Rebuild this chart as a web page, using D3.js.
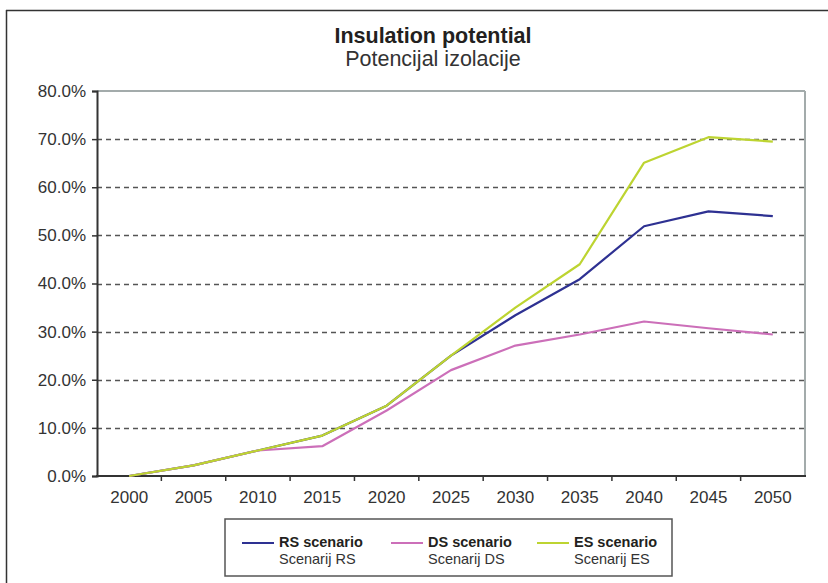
<!DOCTYPE html>
<html>
<head>
<meta charset="utf-8">
<script src="https://cdn.jsdelivr.net/npm/d3@7"></script>
<style>
  html, body { margin: 0; padding: 0; background: #fff; }
  svg { display: block; font-family: "Liberation Sans", Arial, sans-serif; }
</style>
</head>
<body>
<svg id="chart" width="828" height="583"></svg>
<script>
// Years on the category axis
const years = ["2000","2005","2010","2015","2020","2025","2030","2035","2040","2045","2050"];
// Share of insulation potential (percent) per scenario
const rsValues = [0, 2.2, 5.3, 8.4, 14.6, 25.0, 33.4, 40.9, 51.9, 55.0, 54.0];
const dsValues = [0, 2.2, 5.3, 6.2, 13.6, 22.0, 27.1, 29.4, 32.1, 30.7, 29.4];
const esValues = [0, 2.2, 5.3, 8.4, 14.6, 25.0, 35.0, 44.0, 65.1, 70.4, 69.5];
const yTicks = [0, 10, 20, 30, 40, 50, 60, 70, 80];
const seriesNames = ["RS scenario", "DS scenario", "ES scenario"];
const seriesSubNames = ["Scenarij RS", "Scenarij DS", "Scenarij ES"];
const seriesColors = ["#2e3192", "#cc6fb9", "#bdd431"];

const series = [rsValues, dsValues, esValues].map((values, i) => ({
  name: seriesNames[i], sub: seriesSubNames[i], color: seriesColors[i], values
}));

const svg = d3.select("#chart");
const plotLeft = 97, plotRight = 805, plotTop = 91, plotBottom = 476;

// outer frame: top and left edges only
svg.append("line").attr("x1", 6).attr("x2", 828).attr("y1", 10.5).attr("y2", 10.5)
  .attr("stroke", "#333").attr("stroke-width", 1.5);
svg.append("line").attr("x1", 6.5).attr("x2", 6.5).attr("y1", 10).attr("y2", 583)
  .attr("stroke", "#333").attr("stroke-width", 1.5);

// titles
svg.append("text").attr("x", 433).attr("y", 43).attr("text-anchor", "middle")
  .attr("font-size", 21.5).attr("font-weight", "bold").attr("fill", "#231f20")
  .text("Insulation potential");
svg.append("text").attr("x", 433).attr("y", 66).attr("text-anchor", "middle")
  .attr("font-size", 21.5).attr("fill", "#333")
  .text("Potencijal izolacije");

const x = d3.scaleBand().domain(years).range([plotLeft, plotRight]);
const y = d3.scaleLinear().domain([0, 80]).range([plotBottom, plotTop]);

// dashed gridlines
svg.append("g").selectAll("line").data(yTicks.filter(t => t > 0 && t < 80)).join("line")
  .attr("x1", plotLeft).attr("x2", plotRight)
  .attr("y1", d => Math.round(y(d)) + 0.5).attr("y2", d => Math.round(y(d)) + 0.5)
  .attr("stroke", "#555").attr("stroke-width", 1.3).attr("stroke-dasharray", "5,4");

// plot frame: top and right in grey
svg.append("line").attr("x1", plotLeft).attr("x2", plotRight).attr("y1", plotTop).attr("y2", plotTop)
  .attr("stroke", "#a3abab").attr("stroke-width", 2);
svg.append("line").attr("x1", plotRight).attr("x2", plotRight).attr("y1", plotTop).attr("y2", plotBottom)
  .attr("stroke", "#a3abab").attr("stroke-width", 2);

// y axis
const yAxis = svg.append("g").attr("transform", `translate(${plotLeft},0)`)
  .call(d3.axisLeft(y).tickValues(yTicks).tickFormat(d => d.toFixed(1) + "%").tickSize(5).tickPadding(6));
yAxis.select(".domain").attr("stroke", "#333").attr("stroke-width", 2);
yAxis.selectAll(".tick line").attr("stroke", "#333").attr("stroke-width", 1.5);
yAxis.selectAll(".tick text").attr("font-size", 17).attr("fill", "#333")
  .attr("font-family", "Liberation Sans, Arial, sans-serif");

// x axis with ticks between categories
const xAxisG = svg.append("g").attr("transform", `translate(0,${plotBottom})`);
xAxisG.append("line").attr("x1", plotLeft - 1).attr("x2", plotRight + 1).attr("y1", 0).attr("y2", 0)
  .attr("stroke", "#333").attr("stroke-width", 2);
xAxisG.selectAll("line.tk").data(years.slice(1)).join("line").attr("class", "tk")
  .attr("x1", d => x(d)).attr("x2", d => x(d)).attr("y1", 0).attr("y2", 5)
  .attr("stroke", "#333").attr("stroke-width", 1.5);
xAxisG.selectAll("text").data(years).join("text")
  .attr("x", d => x(d) + x.bandwidth() / 2).attr("y", 26.5)
  .attr("text-anchor", "middle").attr("font-size", 17).attr("fill", "#333")
  .text(d => d);

// series lines
const line = d3.line()
  .x((d, i) => x(years[i]) + x.bandwidth() / 2)
  .y(d => y(d));
svg.append("g").selectAll("path").data(series).join("path")
  .attr("d", s => line(s.values))
  .attr("fill", "none").attr("stroke", s => s.color).attr("stroke-width", 2.2)
  .attr("stroke-linejoin", "round");

// legend
const lg = svg.append("g");
lg.append("rect").attr("x", 225).attr("y", 519).attr("width", 447).attr("height", 57)
  .attr("fill", "#fff").attr("stroke", "#555").attr("stroke-width", 1.5);
const legendX = [242, 391, 537];
series.forEach((s, i) => {
  const g = lg.append("g").attr("transform", `translate(${legendX[i]},0)`);
  g.append("line").attr("x1", 0).attr("x2", 32).attr("y1", 543).attr("y2", 543)
    .attr("stroke", s.color).attr("stroke-width", 2);
  g.append("text").attr("x", 37).attr("y", 547).attr("font-size", 14.5)
    .attr("font-weight", "bold").attr("fill", "#231f20").text(s.name);
  g.append("text").attr("x", 37).attr("y", 564).attr("font-size", 14.5)
    .attr("fill", "#333").text(s.sub);
});
</script>
</body>
</html>
